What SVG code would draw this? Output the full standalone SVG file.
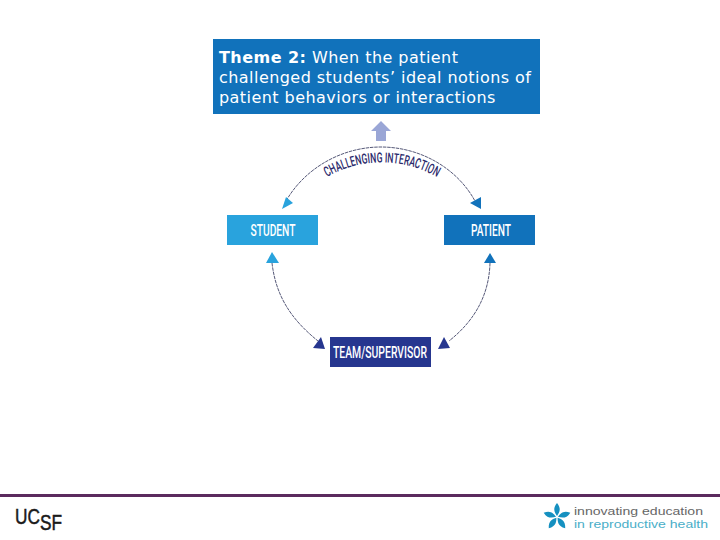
<svg xmlns="http://www.w3.org/2000/svg" width="720" height="540" viewBox="0 0 720 540">
<style>
.t{font-family:"DejaVu Sans",Verdana,sans-serif;font-size:16px;letter-spacing:.45px;fill:#fff}
.n{font-family:Roboto,"Liberation Sans",sans-serif;font-weight:500;font-size:17px;fill:#fff;text-anchor:middle}
.c{fill:none;stroke:#2b2f55;stroke-width:.8;stroke-dasharray:3.5 .8}
.p{fill:#1590c0}
.l{font-family:"Liberation Sans",sans-serif;font-size:11.5px}
</style>
<defs>
<path id="labelArc" d="M327 177A110 110 0 0 1 460 195"/>
<path id="petal" d="M0 -1C-2 -4 -5 -8 0 -14C5 -8 2 -4 0 -1Z"/>
</defs>
<rect width="720" height="540" fill="#fff"/>
<g id="theme">
<rect x="213" y="39" width="327" height="75" fill="#1172bb"/>
<text class="t" x="219" y="63"><tspan font-weight="700">Theme 2:</tspan> When the patient</text>
<text class="t" x="219" y="83">challenged students’ ideal notions of</text>
<text class="t" x="219" y="103">patient behaviors or interactions</text>
</g>
<g id="up-arrow"><polygon points="381,121 391,131 386,131 386,141 376,141 376,131 371,131" fill="#9aa6d6"/></g>
<g id="connectors">
<path class="c" d="M286 201C305 168 342 147 381 147C420 147 457 168 475 201"/>
<path class="c" d="M272 263C276 297 292 320 318 341"/>
<path class="c" d="M490 263C489 297 473 322 449 341"/>
<polygon points="286,197 293,203 282,209" fill="#29a3dd"/>
<polygon points="481,197 470,203 481,209" fill="#1172bb"/>
<polygon points="272,252 279,263 266,263" fill="#29a3dd"/>
<polygon points="490,253 496,263 484,263" fill="#1172bb"/>
<polygon points="313,348 321,337 325,349" fill="#26368f"/>
<polygon points="444,337 450,348 438,349" fill="#26368f"/>
</g>
<g id="label"><text font-family="Roboto,'Liberation Sans',sans-serif" font-weight="500" font-size="14" fill="#2b2a6b"><textPath href="#labelArc" textLength="115" lengthAdjust="spacingAndGlyphs">CHALLENGING INTERACTION</textPath></text></g>
<g id="student"><rect x="227" y="215" width="91" height="30" fill="#29a3dd"/><text class="n" x="273" y="236" textLength="45" lengthAdjust="spacingAndGlyphs">STUDENT</text></g>
<g id="patient"><rect x="444" y="215" width="91" height="30" fill="#1172bb"/><text class="n" x="491" y="236" textLength="40" lengthAdjust="spacingAndGlyphs">PATIENT</text></g>
<g id="team"><rect x="330" y="337" width="101" height="30" fill="#26368f"/><text class="n" x="380" y="358" textLength="94" lengthAdjust="spacingAndGlyphs">TEAM/SUPERVISOR</text></g>
<g id="footer">
<rect x="0" y="494" width="720" height="3" fill="#5b2a5e"/>
<text x="15" y="524" font-family="'Liberation Sans',sans-serif" font-size="22" fill="#1a1a1a" stroke="#1a1a1a" stroke-width=".5" textLength="47" lengthAdjust="spacingAndGlyphs">UC<tspan dy="6">SF</tspan></text>
<g transform="translate(557 517)">
<use class="p" href="#petal"/>
<use class="p" href="#petal" transform="rotate(72)"/>
<use class="p" href="#petal" transform="rotate(144)"/>
<use class="p" href="#petal" transform="rotate(216)"/>
<use class="p" href="#petal" transform="rotate(288)"/>
</g>
<text class="l" x="574" y="515" fill="#666" textLength="129" lengthAdjust="spacingAndGlyphs">innovating education</text>
<text class="l" x="574" y="528" fill="#4aaec8" textLength="134" lengthAdjust="spacingAndGlyphs">in reproductive health</text>
</g>
</svg>
